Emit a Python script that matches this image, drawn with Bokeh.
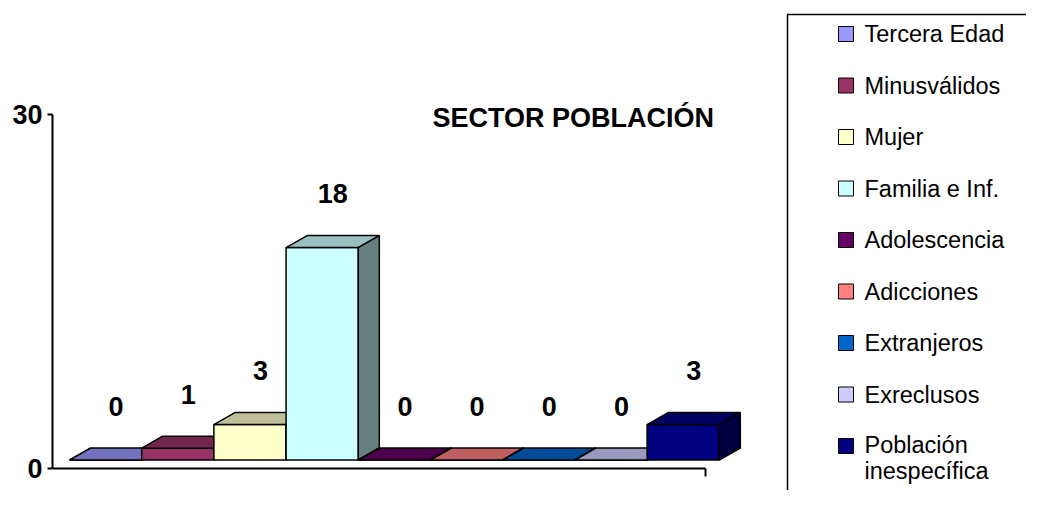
from bokeh.plotting import figure
from bokeh.models import Range1d, LinearAxis, FixedTicker
from bokeh.embed import file_html
from bokeh.resources import INLINE
from bokeh.core.properties import value

# ---- data ----
categories = ["Tercera Edad", "Minusválidos", "Mujer", "Familia e Inf.",
              "Adolescencia", "Adicciones", "Extranjeros", "Exreclusos",
              "Población inespecífica"]
legend_labels = ["Tercera Edad", "Minusválidos", "Mujer", "Familia e Inf.",
                 "Adolescencia", "Adicciones", "Extranjeros", "Exreclusos",
                 "Población\ninespecífica"]
counts = [0, 1, 3, 18, 0, 0, 0, 0, 3]
colors = ["#9999FF", "#993366", "#FFFFCC", "#CCFFFF", "#660066",
          "#FF8080", "#0066CC", "#CCCCFF", "#000080"]
y_ticks = [0, 30]
y_max = 30
title_text = "SECTOR POBLACIÓN"

# ---- geometry (style) ----
W, H = 1026, 490
FRAME_LEFT = 52              # x of the frame's left edge (value axis)
FRAME_BOTTOM = H             # y of the frame's bottom edge
XS = 72.2                    # px per category slot
YS = 11.8                    # px per value unit
BAR0_LEFT = 69
ZERO_Y = 468                 # y of value 0 on the axis
x0 = -(BAR0_LEFT - FRAME_LEFT) / XS
y0 = -(FRAME_BOTTOM - ZERO_Y) / YS
x1 = x0 + (W - FRAME_LEFT) / XS
y1 = y0 + H / YS

DX = 21 / XS                 # 3-D depth offset
DY = 12 / YS
BASE = 8.5 / YS              # bars sit behind the floor's front edge
LABEL_OFF = 42 / YS
AXIS_END = (705 - BAR0_LEFT) / XS
LEG_STEP = 51.5
LEG_FS = 23.5


def ix(px):
    return x0 + (px - FRAME_LEFT) / XS


def iy(py):
    return y0 + (FRAME_BOTTOM - py) / YS


def shade(hexc, f):
    r, g, b = int(hexc[1:3], 16), int(hexc[3:5], 16), int(hexc[5:7], 16)
    return "#%02x%02x%02x" % (int(r * f), int(g * f), int(b * f))


p = figure(width=W, height=H, x_range=Range1d(x0, x1), y_range=Range1d(y0, y1),
           output_backend="svg", toolbar_location=None,
           x_axis_location=None, y_axis_location=None,
           min_border_left=FRAME_LEFT, min_border_right=0,
           min_border_top=0, min_border_bottom=0)
p.outline_line_color = None
p.xgrid.visible = False
p.ygrid.visible = False
p.background_fill_color = "white"

FONT = "Liberation Sans"

yax = LinearAxis(ticker=FixedTicker(ticks=y_ticks), bounds=(0, y_max))
yax.major_tick_in = 0
yax.major_tick_out = 5
yax.minor_tick_line_color = None
yax.axis_line_width = 2
yax.major_tick_line_width = 2
yax.major_label_standoff = 5
yax.major_label_text_font = FONT
yax.major_label_text_font_style = "bold"
yax.major_label_text_font_size = "27px"
yax.major_label_text_color = "black"
p.add_layout(yax, "left")

xax = LinearAxis(ticker=FixedTicker(ticks=[AXIS_END]), bounds=(x0, AXIS_END),
                 fixed_location=0)
xax.major_tick_in = 0
xax.major_tick_out = 8
xax.minor_tick_line_color = None
xax.axis_line_width = 2
xax.major_tick_line_width = 2
xax.major_label_overrides = {AXIS_END: ""}
p.add_layout(xax, "below")

# ---- 3-D bars ----
xs, ys, fills = [], [], []
for i, v in enumerate(counts):
    top = BASE + v
    xs.append([i, i + 1, i + 1, i]); ys.append([BASE, BASE, top, top]); fills.append(colors[i])
    xs.append([i, i + DX, i + 1 + DX, i + 1]); ys.append([top, top + DY, top + DY, top])
    fills.append(shade(colors[i], 0.75))
    xs.append([i + 1, i + 1, i + 1 + DX, i + 1 + DX]); ys.append([BASE, top, top + DY, BASE + DY])
    fills.append(shade(colors[i], 0.5))
p.patches(xs=xs, ys=ys, fill_color=fills, line_color="black", line_width=1.5)

# value labels
p.text(x=[i + 0.5 + DX / 2 for i in range(len(counts))],
       y=[BASE + v + DY + LABEL_OFF for v in counts],
       text=[str(v) for v in counts], text_align="center", text_baseline="middle",
       text_font=value(FONT), text_font_style="bold", text_font_size="27px",
       text_color="black")

# title
p.text(x=[ix(432)], y=[iy(117)], text=[title_text], text_align="left",
       text_baseline="middle", text_font=value(FONT), text_font_style="bold",
       text_font_size="27px", text_color="black")

# ---- legend box ----
p.quad(left=[ix(787)], right=[ix(1200)], top=[iy(14)], bottom=[iy(700)],
       fill_color="white", line_color="black", line_width=1.5)
ly = [33.5 + LEG_STEP * k for k in range(len(legend_labels))]
p.scatter(x=[ix(845.5)] * len(colors), y=[iy(c) for c in ly], marker="square", size=15,
          fill_color=colors, line_color="black", line_width=1)
p.text(x=[ix(864)] * len(colors),
       y=[iy(c + LEG_FS / 2 * lab.count("\n")) for c, lab in zip(ly, legend_labels)],
       text=legend_labels, text_align="left", text_baseline="middle",
       text_font=value(FONT), text_font_size=f"{LEG_FS}px", text_color="black",
       text_line_height=1.0)

open("out.html", "w").write(file_html(p, INLINE))
